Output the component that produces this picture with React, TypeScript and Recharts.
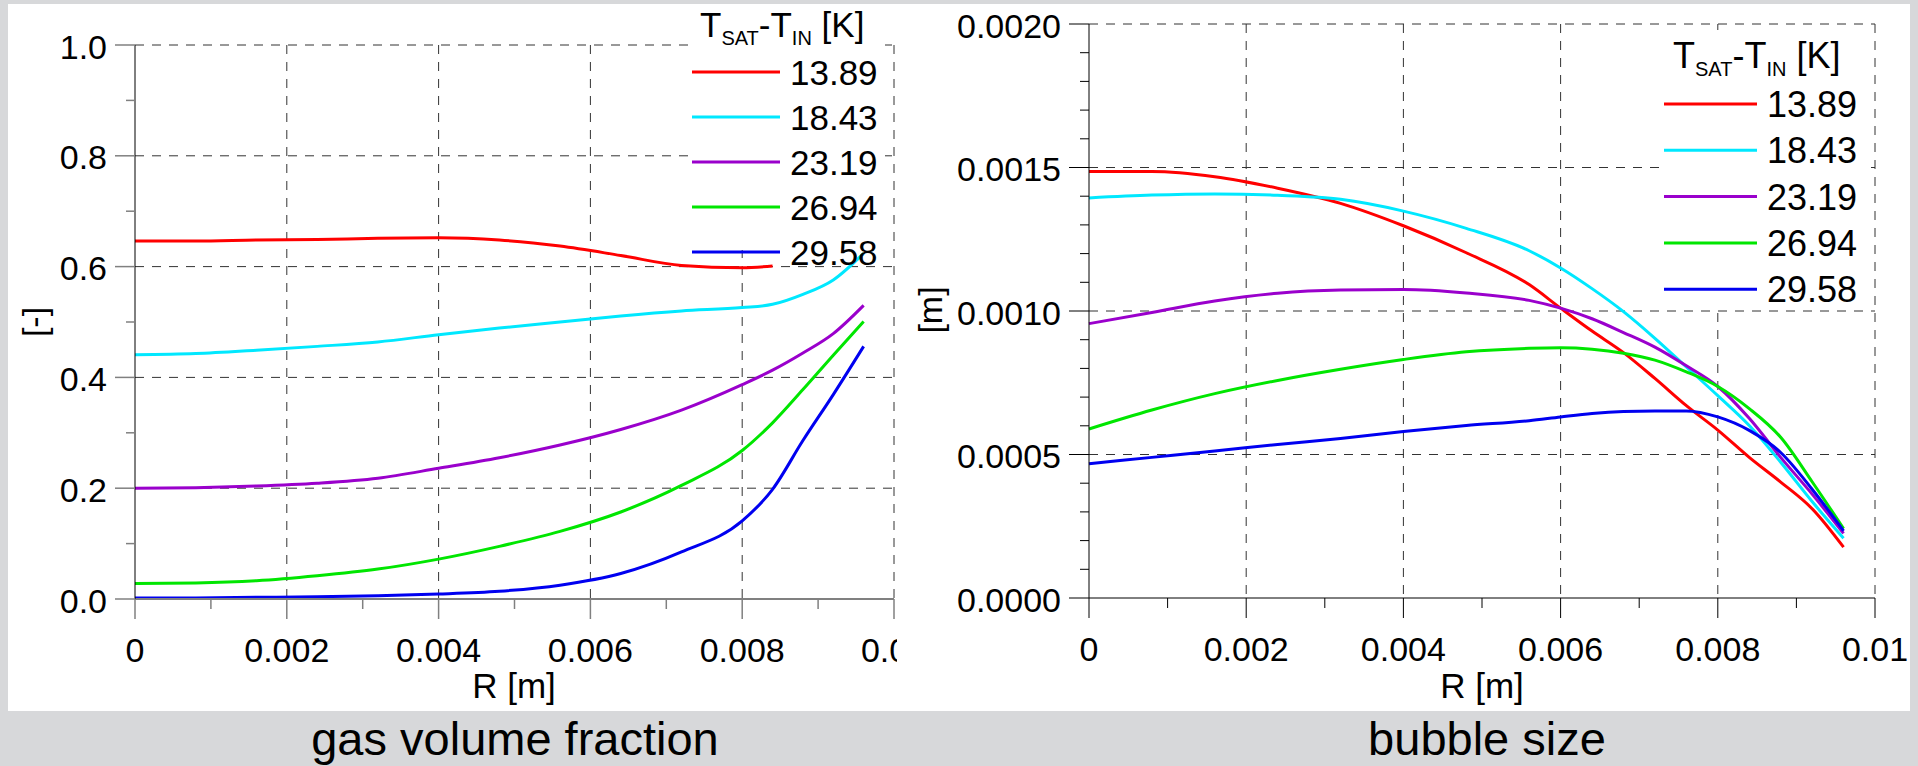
import React from "react";
import { LineChart, Line, XAxis, YAxis, CartesianGrid, Legend } from "recharts";

const FONT = '"Liberation Sans", Arial, Helvetica, sans-serif';

const SERIES = ["13.89", "18.43", "23.19", "26.94", "29.58"];
const COLORS = ["#ff0000", "#00e8ff", "#9a00cc", "#00e600", "#0000f0"];

// gas volume fraction [-] vs R [m]
const R_GAS = [0, 0.0008, 0.0016, 0.0024, 0.0032, 0.004, 0.0048, 0.0056, 0.0064, 0.0072, 0.008, 0.0084, 0.0088, 0.0092, 0.0096];
const GAS_1389 = [0.646, 0.646, 0.648, 0.649, 0.651, 0.652, 0.648, 0.637, 0.62, 0.602, 0.598, 0.601];
const GAS_1843 = [0.441, 0.443, 0.449, 0.456, 0.464, 0.477, 0.489, 0.5, 0.511, 0.52, 0.526, 0.532, 0.55, 0.576, 0.624];
const GAS_2319 = [0.2, 0.201, 0.204, 0.209, 0.218, 0.236, 0.255, 0.278, 0.306, 0.341, 0.387, 0.413, 0.444, 0.479, 0.53];
const GAS_2694 = [0.028, 0.029, 0.033, 0.042, 0.054, 0.072, 0.095, 0.122, 0.157, 0.205, 0.268, 0.318, 0.378, 0.44, 0.501];
const GAS_2958 = [0.002, 0.002, 0.003, 0.004, 0.006, 0.009, 0.014, 0.025, 0.046, 0.085, 0.141, 0.198, 0.286, 0.369, 0.456];

// bubble size [m] vs R [m]
const R_BUB = [0, 0.0008, 0.0016, 0.0024, 0.0032, 0.004, 0.0048, 0.0056, 0.006, 0.0064, 0.0068, 0.0072, 0.0076, 0.008, 0.0084, 0.0088, 0.0092, 0.0096];
const BUB_1389 = [0.001486, 0.001486, 0.001468, 0.001428, 0.001375, 0.001297, 0.001203, 0.001092, 0.00101, 0.00093, 0.000855, 0.000765, 0.00067, 0.000585, 0.00049, 0.000404, 0.000311, 0.000177];
const BUB_1843 = [0.001394, 0.001404, 0.001408, 0.001403, 0.001389, 0.001348, 0.001288, 0.00121, 0.00115, 0.001078, 0.000998, 0.000905, 0.000805, 0.000705, 0.000601, 0.000473, 0.000336, 0.000208];
const BUB_2319 = [0.000956, 0.000995, 0.001035, 0.001062, 0.001073, 0.001075, 0.001063, 0.001037, 0.00101, 0.000973, 0.000925, 0.000874, 0.000809, 0.000737, 0.000626, 0.00049, 0.000362, 0.000225];
const BUB_2694 = [0.000589, 0.000655, 0.000712, 0.000758, 0.000797, 0.000831, 0.000858, 0.00087, 0.000872, 0.000867, 0.000853, 0.000829, 0.000788, 0.000737, 0.00066, 0.00056, 0.000405, 0.000242];
const BUB_2958 = [0.000468, 0.00049, 0.000512, 0.000535, 0.000556, 0.00058, 0.000601, 0.000618, 0.000631, 0.000643, 0.00065, 0.000652, 0.000652, 0.000631, 0.000584, 0.000507, 0.000379, 0.000234];

const X_TICKS = [0, 0.001, 0.002, 0.003, 0.004, 0.005, 0.006, 0.007, 0.008, 0.009, 0.01];
const X_GRID = [0.002, 0.004, 0.006, 0.008, 0.01];
const GAS_TICKS = [0, 0.1, 0.2, 0.3, 0.4, 0.5, 0.6, 0.7, 0.8, 0.9, 1.0];
const GAS_GRID = [0.2, 0.4, 0.6, 0.8, 1.0];
const BUB_TICKS = [0, 0.0001, 0.0002, 0.0003, 0.0004, 0.0005, 0.0006, 0.0007, 0.0008, 0.0009, 0.001, 0.0011, 0.0012, 0.0013, 0.0014, 0.0015, 0.0016, 0.0017, 0.0018, 0.0019, 0.002];
const BUB_GRID = [0.0005, 0.001, 0.0015, 0.002];

const GAS_SERIES = [GAS_1389, GAS_1843, GAS_2319, GAS_2694, GAS_2958];
const BUB_SERIES = [BUB_1389, BUB_1843, BUB_2319, BUB_2694, BUB_2958];

const toRows = (rs, series) =>
  rs.map((r, i) => {
    const row = { r };
    series.forEach((s, k) => { row["s" + k] = s[i] ?? null; });
    return row;
  });

const gasData = toRows(R_GAS, GAS_SERIES);
const bubData = toRows(R_BUB, BUB_SERIES);

const fmtX = (v) => (v === 0 ? "0" : String(+v.toFixed(3)));

const XTick = ({ x, y, payload, color, sw }) => {
  const v = payload.value;
  const major = Math.round(v * 1000) % 2 === 0;
  return (
    <g>
      <line x1={x} x2={x} y1={y} y2={y + (major ? 20 : 10)} stroke={color} strokeWidth={sw} />
      {major && (
        <text x={x} y={y + 63} textAnchor="middle" fontSize={34} fontFamily={FONT} fill="#000">
          {fmtX(v)}
        </text>
      )}
    </g>
  );
};

const YTick = ({ x, y, payload, color, sw, isMajor, fmt }) => {
  const v = payload.value;
  const major = isMajor(v);
  return (
    <g>
      <line x1={x - (major ? 20 : 9)} x2={x} y1={y} y2={y} stroke={color} strokeWidth={sw} />
      {major && (
        <text x={x - 28} y={y + 13.5} textAnchor="end" fontSize={34} fontFamily={FONT} fill="#000">
          {fmt(v)}
        </text>
      )}
    </g>
  );
};

const LegendBox = ({ w, h, titleX, titleY, fs, swX1, swX2, y0, gap, textX }) => (
  <div style={{ background: "#fff", width: w, height: h }}>
    <svg width={w} height={h} style={{ overflow: "visible", display: "block" }}>
      <text x={titleX} y={titleY} fontSize={fs} fontFamily={FONT} fill="#000">
        T<tspan fontSize={20} dy={8}>SAT</tspan>
        <tspan fontSize={fs} dy={-8}>-T</tspan>
        <tspan fontSize={20} dy={8}>IN</tspan>
        <tspan fontSize={fs} dy={-8}>{" [K]"}</tspan>
      </text>
      {SERIES.map((name, i) => (
        <g key={name}>
          <line x1={swX1} x2={swX2} y1={y0 + i * gap} y2={y0 + i * gap} stroke={COLORS[i]} strokeWidth={3} />
          <text x={textX} y={y0 + i * gap + 13} fontSize={fs} fontFamily={FONT} fill="#000">
            {name}
          </text>
        </g>
      ))}
    </svg>
  </div>
);

const textAt = (txt, cx, top, fs) => (
  <div
    style={{
      position: "absolute", left: cx - 300, top, width: 600, textAlign: "center",
      fontSize: fs, lineHeight: fs + "px", fontFamily: FONT, color: "#000", whiteSpace: "nowrap",
    }}
  >
    {txt}
  </div>
);

const rotAt = (txt, cx, cy, fs) => (
  <div
    style={{
      position: "absolute", left: cx - 40, top: cy - 20, width: 80, height: 40, textAlign: "center",
      fontSize: fs, lineHeight: "40px", fontFamily: FONT, color: "#000", transform: "rotate(-90deg)",
    }}
  >
    {txt}
  </div>
);

const GRID_STROKE = "#333";
const DASH = "9 8";

export default function App() {
  return (
    <div style={{ position: "absolute", left: 0, top: 0, width: 1918, height: 766, background: "#d7d8da", overflow: "hidden" }}>
      <div style={{ position: "absolute", left: 8, top: 4, width: 1902, height: 707, background: "#fff" }} />

      {/* gas volume fraction */}
      <div style={{ position: "absolute", left: 0, top: 0, width: 897, height: 711, overflow: "hidden" }}>
        <LineChart width={897} height={711} data={gasData} margin={{ top: 45, right: 3, left: 0, bottom: 0 }}>
          <CartesianGrid stroke={GRID_STROKE} strokeDasharray={DASH} horizontalValues={GAS_GRID} verticalValues={X_GRID} />
          <XAxis
            dataKey="r" type="number" domain={[0, 0.01]} ticks={X_TICKS} interval={0}
            height={112} tickSize={0} tickMargin={0} tickLine={false}
            axisLine={{ stroke: "#808080", strokeWidth: 2 }}
            tick={(p) => <XTick {...p} color="#808080" sw={1.5} />}
          />
          <YAxis
            type="number" domain={[0, 1]} ticks={GAS_TICKS} interval={0}
            width={135} tickSize={0} tickMargin={0} tickLine={false}
            axisLine={{ stroke: "#000", strokeWidth: 1 }}
            tick={(p) => (
              <YTick {...p} color="#808080" sw={1.5}
                isMajor={(v) => Math.round(v * 10) % 2 === 0}
                fmt={(v) => v.toFixed(1)} />
            )}
          />
          <Legend
            layout="vertical" align="center" verticalAlign="middle"
            wrapperStyle={{ position: "absolute", left: 690, top: 5, width: 195, height: 245 }}
            content={() => (
              <LegendBox w={195} h={245} titleX={10} titleY={32} fs={35}
                swX1={2} swX2={90} y0={67} gap={45} textX={100} />
            )}
          />
          {SERIES.map((name, k) => (
            <Line key={name} type="monotone" dataKey={"s" + k} name={name} stroke={COLORS[k]}
              strokeWidth={3} dot={false} isAnimationActive={false} connectNulls={false} />
          ))}
        </LineChart>
      </div>

      {/* bubble size */}
      <div style={{ position: "absolute", left: 915, top: 0, width: 995, height: 711 }}>
        <LineChart width={995} height={711} data={bubData} margin={{ top: 24, right: 35, left: 0, bottom: 0 }}>
          <CartesianGrid stroke={GRID_STROKE} strokeDasharray={DASH} horizontalValues={BUB_GRID} verticalValues={X_GRID} />
          <XAxis
            dataKey="r" type="number" domain={[0, 0.01]} ticks={X_TICKS} interval={0}
            height={113} tickSize={0} tickMargin={0} tickLine={false}
            axisLine={{ stroke: "#000", strokeWidth: 1 }}
            tick={(p) => <XTick {...p} color="#000" sw={1} />}
          />
          <YAxis
            type="number" domain={[0, 0.002]} ticks={BUB_TICKS} interval={0}
            width={174} tickSize={0} tickMargin={0} tickLine={false}
            axisLine={{ stroke: "#000", strokeWidth: 1 }}
            tick={(p) => (
              <YTick {...p} color="#000" sw={1}
                isMajor={(v) => Math.round(v * 10000) % 5 === 0}
                fmt={(v) => v.toFixed(4)} />
            )}
          />
          <Legend
            layout="vertical" align="center" verticalAlign="middle"
            wrapperStyle={{ position: "absolute", left: 747, top: 30, width: 206, height: 275 }}
            content={() => (
              <LegendBox w={206} h={275} titleX={11} titleY={38} fs={36}
                swX1={2} swX2={95} y0={74} gap={46.3} textX={105} />
            )}
          />
          {SERIES.map((name, k) => (
            <Line key={name} type="monotone" dataKey={"s" + k} name={name} stroke={COLORS[k]}
              strokeWidth={3} dot={false} isAnimationActive={false} />
          ))}
        </LineChart>
      </div>

      {rotAt("[-]", 34, 322, 34)}
      {rotAt("[m]", 930, 310, 34)}
      {textAt("R [m]", 514, 668, 35)}
      {textAt("R [m]", 1482, 668, 35)}
      {textAt("gas volume fraction", 515, 715, 47)}
      {textAt("bubble size", 1487, 715, 47)}
    </div>
  );
}
